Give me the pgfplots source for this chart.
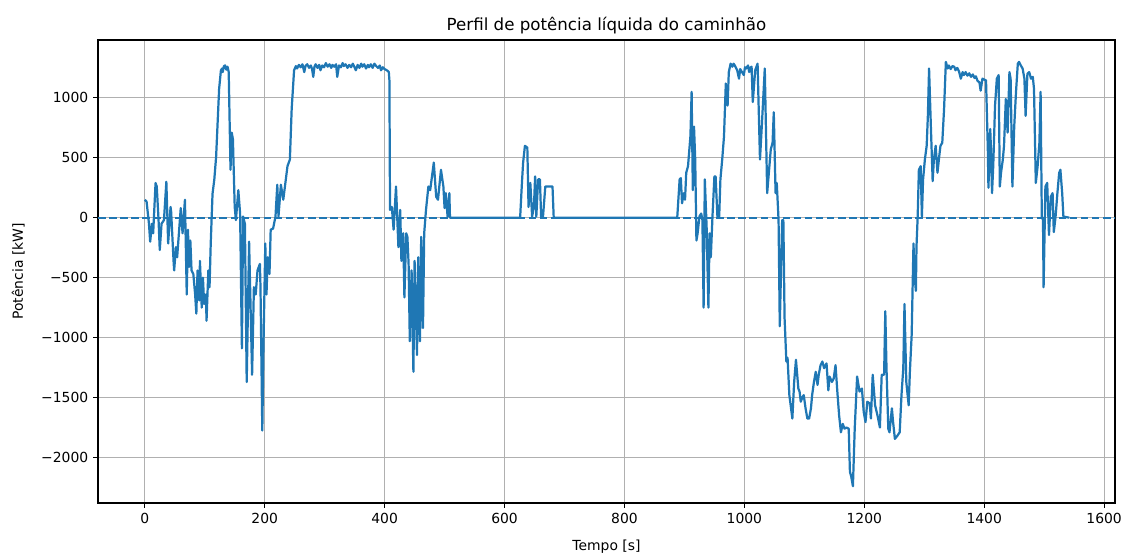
\documentclass[border=0pt]{standalone}
\usepackage{pgfplots}
\pgfplotsset{compat=1.18}
\usepackage{fontspec}
\setmainfont{DejaVu Sans}
\definecolor{C0}{RGB}{31,119,180}
\definecolor{gridc}{RGB}{176,176,176}
\begin{document}
\begin{tikzpicture}
\begin{axis}[
  at={(0,0)}, anchor=south west, scale only axis,
  width=732.2pt, height=333.4pt,
  xmin=-78, xmax=1618, ymin=-2380, ymax=1483,
  xtick={0,200,...,1600},
  ytick={-2000,-1500,-1000,-500,0,500,1000},
  yticklabels={−2000,−1500,−1000,−500,0,500,1000},
  /pgf/number format/assume math mode=true,
  /pgf/number format/1000 sep={},
  xticklabel style={font=\fontsize{10}{12}\selectfont},
  yticklabel style={font=\fontsize{10}{12}\selectfont},
  grid=major,
  major grid style={color=gridc, line width=0.8pt},
  axis line style={line width=0.8pt},
  tick align=outside,
  major tick length=3.5pt,
  every tick/.style={black, line width=0.8pt},
  xtick pos=bottom, ytick pos=left,
  title={Perfil de potência líquida do caminhão},
  title style={font=\fontsize{12}{14}\selectfont, yshift=-5.3pt},
  xlabel={Tempo [s]},
  ylabel={Potência [kW]},
  label style={font=\fontsize{10}{12}\selectfont},
  xlabel style={yshift=-5pt},
  ylabel style={yshift=5pt},
]
\addplot[C0, line width=1.5pt, dash pattern=on 5.55pt off 2.4pt, forget plot] coordinates {(-78,0) (1618,0)};
\addplot[C0, line width=1.6pt, line join=round] table[row sep=\\] {
x y\\
0 150\\ 3 135\\ 7 -50\\ 9 -200\\ 12 -50\\ 14 -130\\ 18 290\\ 20 260\\ 23 -20\\ 25 -270\\
28 -50\\ 32 -20\\ 36 300\\ 39 -215\\ 43 90\\ 44 50\\ 48 -360\\ 49 -440\\ 52 -245\\ 54 -330\\
60 80\\ 63 -130\\ 67 150\\ 70 -640\\ 72 -100\\ 74 -410\\ 76 -190\\ 78 -440\\ 81 -470\\ 84 -640\\
86 -800\\ 88 -440\\ 91 -690\\ 92 -360\\ 95 -750\\ 97 -500\\ 99 -720\\ 102 -640\\ 103 -860\\ 106 -440\\
108 -580\\ 110 -215\\ 113 200\\ 116 320\\ 119 510\\ 124 1075\\ 127 1230\\ 129 1245\\ 130 1215\\ 132 1265\\
134 1270\\ 136 1235\\ 138 1260\\ 140 1215\\ 143 400\\ 145 710\\ 147 655\\ 150 90\\ 152 -20\\ 156 230\\ 159 35\\ 162 -1090\\ 164 10\\
167 -50\\ 170 -1370\\ 174 -200\\ 179 -1310\\ 182 -580\\ 185 -640\\ 188 -440\\ 192 -385\\ 193 -580\\ 196 -1775\\
198 -1060\\ 201 -215\\ 203 -640\\ 205 -330\\ 208 -470\\ 210 -100\\ 214 -90\\ 218 10\\ 221 275\\ 223 10\\
227 275\\ 231 150\\ 238 430\\ 242 485\\ 245 907\\ 249 1230\\ 252 1265\\ 254 1245\\ 257 1275\\ 260 1255\\
263 1280\\ 266 1215\\ 268 1265\\ 271 1280\\ 274 1250\\ 277 1270\\ 279 1240\\ 281 1175\\ 283 1260\\ 285 1280\\
288 1250\\ 291 1275\\ 293 1230\\ 296 1270\\ 299 1255\\ 302 1290\\ 305 1260\\ 308 1280\\ 311 1250\\ 313 1275\\
316 1260\\ 319 1280\\ 321 1175\\ 324 1270\\ 327 1255\\ 330 1290\\ 332 1265\\ 335 1280\\ 338 1250\\ 341 1275\\
344 1255\\ 347 1285\\ 349 1265\\ 352 1230\\ 355 1275\\ 358 1250\\ 361 1285\\ 363 1260\\ 366 1280\\ 369 1245\\
372 1275\\ 374 1255\\ 377 1280\\ 380 1250\\ 383 1285\\ 386 1265\\ 389 1250\\ 392 1270\\ 394 1230\\ 397 1255\\
400 1240\\ 402 1235\\ 405 1225\\ 407 1215\\ 408 1145\\ 409 65\\ 412 90\\
415 -100\\ 419 260\\ 423 -245\\ 426 65\\ 428 -360\\ 431 -130\\ 433 -665\\ 436 -130\\ 438 -160\\ 440 -385\\
442 -1030\\ 445 -440\\ 448 -1285\\ 450 -360\\ 454 -1145\\ 456 -330\\ 459 -1030\\ 461 -160\\ 464 -920\\ 466 -130\\
469 65\\ 473 260\\ 476 230\\ 482 460\\ 486 175\\ 489 150\\ 494 400\\ 498 260\\ 500 80\\ 502 205\\
505 10\\ 508 205\\ 509 0\\ 626 0\\ 629 290\\ 631 460\\ 634 600\\ 638 585\\ 640 90\\ 643 290\\
646 10\\ 649 90\\ 651 345\\ 653 10\\ 656 320\\ 659 320\\ 661 10\\ 664 0\\ 668 260\\ 674 260\\
680 260\\ 682 0\\ 888 0\\ 892 320\\ 894 330\\ 896 120\\ 899 205\\ 901 150\\ 903 375\\ 906 430\\
910 680\\ 912 1050\\ 914 230\\ 916 760\\ 918 485\\ 920 -190\\ 922 -130\\ 925 10\\ 928 35\\ 930 -20\\
932 -750\\ 934 320\\ 937 -75\\ 940 -750\\ 942 -130\\ 944 -330\\ 947 35\\ 950 345\\ 952 345\\ 955 10\\
958 10\\ 960 320\\ 963 485\\ 966 680\\ 969 1120\\ 972 935\\ 974 1215\\ 977 1285\\ 980 1260\\ 982 1285\\ 984 1270\\
986 1250\\ 988 1230\\ 991 1160\\ 993 1240\\ 996 1215\\ 999 1190\\ 1001 1255\\ 1003 1245\\ 1006 1270\\ 1008 1215\\ 1010 1250\\ 1012 1260\\ 1014 965\\ 1018 1230\\ 1022 1285\\
1026 485\\ 1029 760\\ 1034 1245\\ 1038 205\\ 1044 570\\ 1047 625\\ 1049 880\\ 1052 205\\ 1054 290\\ 1057 -20\\
1059 -905\\ 1063 -20\\ 1065 -20\\ 1067 -835\\ 1070 -1200\\ 1072 -1170\\ 1075 -1480\\ 1080 -1675\\ 1083 -1370\\ 1086 -1185\\
1090 -1425\\ 1092 -1450\\ 1094 -1535\\ 1097 -1495\\ 1099 -1480\\ 1102 -1590\\ 1105 -1675\\ 1108 -1675\\ 1111 -1590\\ 1113 -1480\\
1116 -1370\\ 1119 -1285\\ 1122 -1395\\ 1124 -1310\\ 1127 -1230\\ 1130 -1200\\ 1133 -1255\\ 1137 -1215\\ 1140 -1440\\ 1142 -1325\\
1146 -1370\\ 1149 -1340\\ 1152 -1230\\ 1155 -1450\\ 1158 -1650\\ 1161 -1790\\ 1164 -1720\\ 1167 -1760\\ 1170 -1750\\ 1174 -1760\\
1176 -2120\\ 1178 -2155\\ 1181 -2240\\ 1184 -1760\\ 1188 -1325\\ 1192 -1450\\ 1196 -1425\\ 1199 -1620\\ 1202 -1705\\ 1205 -1535\\
1209 -1550\\ 1211 -1675\\ 1214 -1310\\ 1218 -1565\\ 1222 -1650\\ 1226 -1750\\ 1229 -1310\\ 1233 -1310\\ 1235 -780\\ 1237 -1255\\
1240 -1760\\ 1242 -1790\\ 1246 -1590\\ 1248 -1705\\ 1251 -1845\\ 1255 -1820\\ 1259 -1790\\ 1262 -1480\\ 1265 -1255\\ 1267 -720\\
1270 -1370\\ 1274 -1565\\ 1276 -1285\\ 1279 -975\\ 1282 -215\\ 1284 -495\\ 1286 -610\\ 1287 -245\\ 1289 10\\ 1291 400\\
1294 430\\ 1296 10\\ 1298 320\\ 1301 485\\ 1304 600\\ 1306 850\\ 1308 1245\\ 1311 760\\ 1314 305\\ 1316 485\\
1319 600\\ 1322 375\\ 1325 515\\ 1327 600\\ 1330 625\\ 1333 905\\ 1336 1300\\ 1339 1245\\ 1341 1270\\ 1344 1240\\ 1347 1265\\ 1350 1260\\
1352 1230\\ 1355 1250\\ 1358 1220\\ 1361 1160\\ 1364 1215\\ 1366 1190\\ 1369 1215\\ 1372 1185\\ 1375 1205\\ 1378 1175\\ 1381 1195\\ 1384 1165\\ 1386 1180\\ 1389 1140\\ 1392 1130\\ 1394 1060\\ 1397 1160\\
1403 1145\\ 1406 570\\ 1407 250\\ 1410 740\\ 1411 600\\ 1413 205\\ 1415 430\\ 1418 935\\ 1421 1160\\ 1424 1190\\
1426 260\\ 1428 375\\ 1431 485\\ 1433 600\\ 1436 990\\ 1439 710\\ 1442 1215\\ 1444 1160\\ 1447 260\\ 1450 760\\
1453 1050\\ 1456 1285\\ 1458 1300\\ 1461 1270\\ 1464 1245\\ 1467 1160\\ 1469 850\\ 1472 1200\\ 1475 1215\\ 1478 1160\\
1481 1175\\ 1483 1075\\ 1486 290\\ 1489 430\\ 1492 625\\ 1494 1050\\ 1496 10\\ 1498 -20\\ 1499 -580\\ 1502 260\\
1505 290\\ 1508 -145\\ 1511 175\\ 1514 205\\ 1516 -120\\ 1519 10\\ 1522 205\\ 1525 375\\ 1527 400\\ 1530 205\\
1532 10\\ 1542 0\\
};
\end{axis}
\pgfresetboundingbox
\path (-70.56pt,-35.28pt) rectangle (740.16pt,362.16pt);
\end{tikzpicture}
\end{document}
